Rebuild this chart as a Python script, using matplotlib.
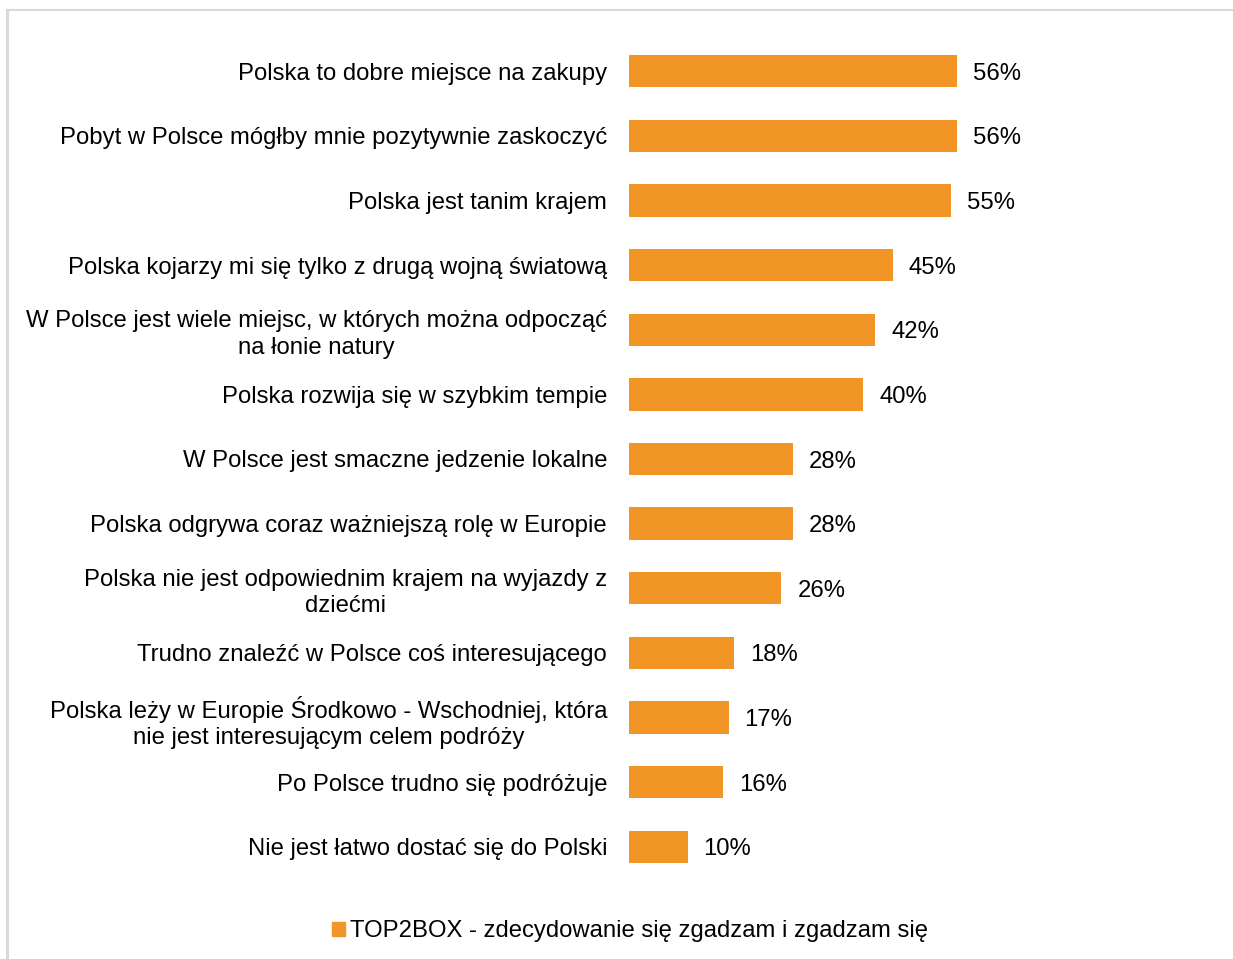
import matplotlib
matplotlib.use("Agg")
import matplotlib.pyplot as plt
from matplotlib.lines import Line2D
from matplotlib.patches import Patch

plt.rcParams['font.family'] = ['Liberation Sans', 'DejaVu Sans']

categories = [
    "Polska to dobre miejsce na zakupy",
    "Pobyt w Polsce mógłby mnie pozytywnie zaskoczyć",
    "Polska jest tanim krajem",
    "Polska kojarzy mi się tylko z drugą wojną światową",
    "W Polsce jest wiele miejsc, w których można odpocząć\nna łonie natury",
    "Polska rozwija się w szybkim tempie",
    "W Polsce jest smaczne jedzenie lokalne",
    "Polska odgrywa coraz ważniejszą rolę w Europie",
    "Polska nie jest odpowiednim krajem na wyjazdy z\ndziećmi",
    "Trudno znaleźć w Polsce coś interesującego",
    "Polska leży w Europie Środkowo - Wschodniej, która\nnie jest interesującym celem podróży",
    "Po Polsce trudno się podróżuje",
    "Nie jest łatwo dostać się do Polski",
]
values = [56, 56, 55, 45, 42, 40, 28, 28, 26, 18, 17, 16, 10]
series_name = "TOP2BOX - zdecydowanie się zgadzam i zgadzam się"

BAR_COLOR = "#F29527"
FS = 17.2
W, H = 1233, 959
fig = plt.figure(figsize=(W / 100, H / 100), dpi=100)

# axes placed in pixel terms
left_px, right_px = 629, 629 + 60 * 5.86
top_px, bot_px = 38.7, 879.3
ax = fig.add_axes([left_px / W, 1 - bot_px / H,
                   (right_px - left_px) / W, (bot_px - top_px) / H])

y = list(range(len(values)))
bars = ax.barh(y, values, height=0.5, color=BAR_COLOR)
ax.set_xlim(0, 60)
ax.set_ylim(len(values) - 0.5, -0.5)

for yi, v in zip(y, values):
    ax.annotate(f"{v}%", xy=(v, yi), xytext=(11.5, 0), textcoords="offset points",
                ha="left", va="center_baseline", fontsize=FS, color="#000000")

ax.set_yticks(y)
ax.set_yticklabels(categories, fontsize=FS, color="#000000")
for lab in ax.get_yticklabels():
    lab.set_multialignment("center")
    lab.set_linespacing(1.27)
ax.tick_params(axis="y", length=0, pad=15.8)
ax.set_xticks([])
for s in ax.spines.values():
    s.set_visible(False)

# frame lines along top and left edge
fig.add_artist(Line2D([6.5 / W, 6.5 / W], [0, 1 - 9.5 / H], color="#D9D9D9", lw=2.2))
fig.add_artist(Line2D([6.5 / W, 1], [1 - 9.5 / H, 1 - 9.5 / H], color="#D9D9D9", lw=1.5))

fig.legend(handles=[Patch(color=BAR_COLOR, label=series_name)],
           loc="center", bbox_to_anchor=(630 / W, 1 - 931.5 / H),
           frameon=False, fontsize=FS, handlelength=0.55, handleheight=0.55,
           handletextpad=0.2)

fig.savefig("out.png", dpi=100)
